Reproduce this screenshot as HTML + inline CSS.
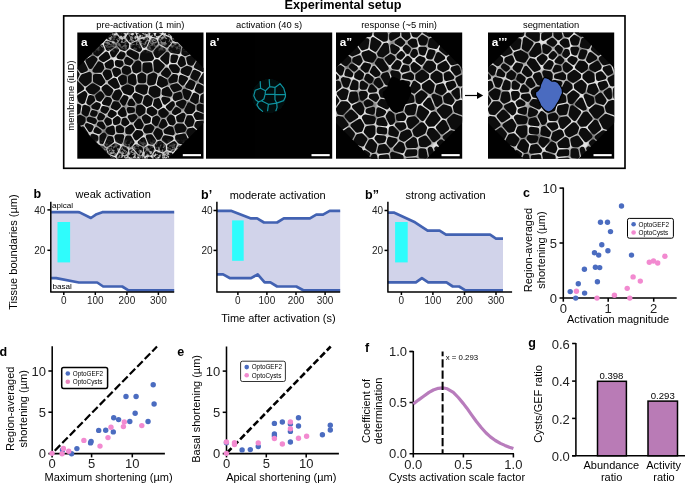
<!DOCTYPE html>
<html><head><meta charset="utf-8"><title>Figure</title>
<style>
html,body{margin:0;padding:0;background:#fff;}
body{width:685px;height:484px;overflow:hidden;}
svg{display:block;font-family:"Liberation Sans",sans-serif;}
</style></head><body>
<svg width="685" height="484" viewBox="0 0 685 484">
<rect width="685" height="484" fill="#fff"/>
<g style="will-change:opacity" opacity="0.9999">
<rect x="63.7" y="15.9" width="561.3" height="152.4" fill="#fff" stroke="#000" stroke-width="1.65"/>
<text x="343" y="9" font-size="12.7" text-anchor="middle" font-weight="700" fill="#000">Experimental setup</text>
<defs>
<filter id="bl" x="-5%" y="-5%" width="110%" height="110%"><feGaussianBlur stdDeviation="0.55"/></filter>
<filter id="bl2" x="-20%" y="-20%" width="140%" height="140%"><feGaussianBlur stdDeviation="0.65"/></filter>
<filter id="wn" x="0" y="0" width="100%" height="100%"><feTurbulence type="fractalNoise" baseFrequency="0.09" numOctaves="2" seed="4" result="t"/><feColorMatrix in="t" type="matrix" values="0 0 0 0 0  0 0 0 0 0  0 0 0 0 0  1.3 0 0 0 -0.5"/></filter>
<filter id="nz" x="0" y="0" width="100%" height="100%"><feTurbulence type="fractalNoise" baseFrequency="0.33" numOctaves="3" seed="7" result="t"/><feColorMatrix in="t" type="matrix" values="0 0 0 0 0.8  0 0 0 0 0.8  0 0 0 0 0.8  3 3 0 0 -2.65"/></filter>
<linearGradient id="eg" x1="0" y1="0" x2="0" y2="1"><stop offset="0" stop-color="#fff"/><stop offset="0.17" stop-color="#000"/><stop offset="0.84" stop-color="#000"/><stop offset="1" stop-color="#fff"/></linearGradient>
<mask id="edgem" maskUnits="userSpaceOnUse" x="77.3" y="32.5" width="126.2" height="126.2"><rect x="77.3" y="32.5" width="126.2" height="126.2" fill="url(#eg)"/></mask>
<clipPath id="oc0"><polygon points="112.9,32.5 167.9,32.5 203.5,68.1 203.5,123.1 167.9,158.7 112.9,158.7 77.3,123.1 77.3,68.1"/></clipPath>
<clipPath id="oc1"><polygon points="241.6,32.5 296.6,32.5 332.2,68.1 332.2,123.1 296.6,158.7 241.6,158.7 206.0,123.1 206.0,68.1"/></clipPath>
<clipPath id="oc2"><polygon points="371.6,32.5 426.6,32.5 462.2,68.1 462.2,123.1 426.6,158.7 371.6,158.7 336.0,123.1 336.0,68.1"/></clipPath>
<clipPath id="oc3"><polygon points="523.6,32.5 578.6,32.5 614.2,68.1 614.2,123.1 578.6,158.7 523.6,158.7 488.0,123.1 488.0,68.1"/></clipPath>
</defs>
<rect x="77.3" y="32.5" width="126.2" height="126.2" fill="#000"/>
<rect x="206.0" y="32.5" width="126.2" height="126.2" fill="#000"/>
<rect x="336.0" y="32.5" width="126.2" height="126.2" fill="#000"/>
<rect x="488.0" y="32.5" width="126.2" height="126.2" fill="#000"/>
<g clip-path="url(#oc0)"><g filter="url(#bl)">
<rect x="75.3" y="30.5" width="130.2" height="130.2" fill="#e2e2e2"/>
<rect x="75.3" y="30.5" width="130.2" height="130.2" filter="url(#wn)"/>
<path d="M74.4 60.9L79.0 58.3L77.0 53.4L74.0 52.9L73.1 53.8ZM186.4 110.5L187.8 111.8L191.2 111.9L193.1 109.6L193.2 106.6L189.3 104.6ZM74.0 91.5L75.7 92.2L81.9 88.4L76.7 83.2L74.1 86.0ZM132.5 45.6L132.4 46.5L139.2 49.7L139.8 49.0L136.9 43.5ZM174.1 38.0L174.7 39.6L177.0 40.0L181.1 32.9L179.0 31.3L178.6 31.4ZM123.7 103.4L126.3 97.9L124.5 97.3L122.1 101.2ZM128.9 109.3L129.5 111.3L132.7 110.7L132.7 109.4ZM178.0 161.7L175.4 163.9L175.6 171.9L181.3 171.9L179.7 161.9ZM106.4 121.0L107.8 123.5L109.7 122.8L109.5 120.7L107.4 119.6ZM166.8 62.3L167.5 54.4L167.3 54.1L162.5 58.6ZM111.4 61.6L106.8 64.3L107.4 66.2L110.3 66.7L111.8 65.3ZM199.5 105.9L198.7 106.5L198.7 108.7L205.0 111.1L205.7 110.0L204.6 106.9ZM136.3 138.1L141.2 134.0L140.4 132.7L137.1 132.3L134.7 135.4ZM68.8 132.8L74.1 130.0L74.3 128.2L72.9 126.9L70.8 127.4ZM117.9 30.1L121.7 35.6L123.0 35.5L126.1 30.2L124.5 27.8ZM165.3 164.5L167.2 171.9L170.1 171.9L169.9 165.1ZM92.3 114.0L94.7 114.6L95.4 113.0L93.0 112.3ZM106.8 144.7L111.9 141.0L111.3 138.4L109.3 138.1L106.6 144.5ZM170.5 49.4L171.8 50.8L178.1 51.8L178.8 47.4L177.1 45.6L173.8 45.0ZM186.8 122.5L188.6 124.9L191.1 124.4L192.4 120.7L190.7 117.4L188.6 117.4ZM169.2 148.5L172.5 149.5L175.0 144.6L174.0 143.4L169.3 146.4ZM132.3 142.3L129.6 137.8L127.5 137.6L125.9 143.6L129.2 145.1L130.0 144.8ZM195.5 25.7L199.1 27.7L202.8 25.7L202.6 19.3L195.2 19.3ZM192.5 76.7L195.9 78.5L198.6 73.8L194.7 72.0ZM128.1 37.8L130.6 40.4L135.0 38.3L133.3 33.4L130.9 33.1ZM174.7 60.9L176.1 57.1L172.9 56.6L172.5 60.9ZM196.2 66.6L202.8 69.7L204.1 69.3L201.5 62.8L198.4 62.9ZM149.7 76.2L149.3 82.8L149.9 83.4L153.6 82.5L155.2 75.7L153.4 74.7ZM159.5 47.8L155.5 52.5L156.8 55.8L157.3 55.8L163.5 50.1ZM86.2 134.0L82.6 128.5L79.7 129.3L79.6 131.0L82.2 134.8L85.1 134.8ZM182.2 106.4L184.2 102.4L183.4 101.9L178.2 103.7L178.2 103.7ZM196.4 41.0L197.7 43.6L199.7 41.0L198.4 39.8ZM210.3 113.1L208.9 115.3L209.0 119.2L209.3 119.5L209.5 119.6L216.7 118.6L216.7 113.0ZM177.4 138.7L179.8 141.7L183.6 142.4L186.3 140.4L183.9 135.6L177.4 136.9L177.3 137.1ZM71.4 73.2L75.9 77.4L77.5 74.3L73.5 69.2ZM78.0 47.9L80.8 45.2L80.1 41.8L77.4 40.3L74.2 43.7L75.2 47.5ZM95.7 150.4L98.0 157.5L99.5 157.8L105.0 153.0L104.2 149.7L102.0 147.9L99.0 147.3ZM82.3 62.8L77.6 65.4L81.8 70.8L85.6 69.5ZM136.1 146.5L135.2 147.3L140.2 153.1L140.4 153.0L140.9 149.0ZM93.6 106.8L97.5 107.8L98.6 105.0L98.6 105.0L96.7 104.2ZM166.6 69.7L163.3 73.5L166.9 75.6L168.9 73.2ZM156.0 123.9L158.1 119.0L156.9 117.8L154.4 119.0L154.0 122.1ZM169.9 94.5L170.2 93.6L167.3 89.0L164.0 90.5L163.7 93.4ZM155.0 41.0L152.7 40.4L149.6 47.7L151.5 48.6L155.7 43.6ZM140.1 35.9L146.5 34.0L145.9 31.4L141.2 29.5L138.6 31.7ZM138.3 101.6L139.4 101.4L140.7 97.2L135.6 95.1L134.6 96.2ZM181.3 77.1L180.7 81.4L182.7 83.4L185.7 78.9ZM92.6 135.9L96.1 139.4L96.1 137.0ZM122.3 76.9L120.2 78.5L122.2 83.0L124.6 81.8L124.7 77.7ZM209.3 72.3L212.5 79.9L216.7 81.1L216.7 70.2ZM118.5 70.6L115.3 69.6L114.3 70.5L115.6 74.7L116.1 74.8L118.8 72.6ZM131.0 27.5L134.5 28.0L137.6 25.2L136.8 19.3L129.3 19.3L128.5 23.8ZM147.6 159.0L148.1 163.2L152.2 162.7L149.9 158.8ZM148.0 136.7L150.2 142.1L152.4 142.5L153.7 140.8L150.8 136.4ZM208.7 146.4L207.2 149.1L208.4 151.7L209.7 152.2L216.7 149.3L216.7 147.3ZM177.1 152.8L178.9 156.2L181.6 156.5L183.0 155.7L181.8 147.7L179.8 147.4ZM189.3 62.8L191.6 63.6L193.6 60.1L192.0 57.2L188.4 58.6ZM134.7 70.6L136.3 71.2L139.1 69.9L139.1 63.4L138.3 62.6L136.9 63.0L133.8 67.0ZM104.2 102.8L108.3 103.7L109.8 100.5L109.1 99.4L106.9 99.1ZM109.9 114.7L111.8 115.7L114.5 113.7L114.5 113.6L111.5 112.0ZM156.5 35.6L159.9 32.5L160.0 30.0L155.5 25.9L151.4 30.2L152.3 34.4L152.5 34.6ZM132.8 75.8L130.2 77.4L130.2 81.7L134.0 83.3L134.5 82.8L133.8 76.2ZM165.5 32.0L170.0 34.1L173.2 29.4L170.2 27.4L165.5 30.3ZM84.4 93.4L79.2 96.6L80.4 100.9L82.3 101.9L83.0 101.7L85.2 94.5ZM125.2 119.9L124.0 120.2L123.4 123.0L124.9 124.1L127.1 122.7ZM107.0 43.0L106.2 44.2L107.9 48.5L108.3 48.7L113.2 45.4ZM208.6 57.7L206.5 60.4L209.0 66.6L213.0 65.5ZM90.5 66.8L95.2 59.5L92.9 57.9L87.6 61.0ZM113.3 55.1L116.8 50.5L116.3 49.9L112.2 52.8ZM142.0 158.4L140.6 158.6L138.1 161.2L138.3 163.4L142.7 164.8ZM89.3 74.0L82.8 76.3L81.0 79.6L85.4 84.0L89.5 80.8L89.6 74.3ZM167.0 153.6L165.8 154.5L165.8 159.0L171.7 159.7L173.6 158.1L172.0 155.1ZM145.9 153.6L149.9 153.3L152.2 149.8L151.6 148.0L148.8 147.6L146.4 149.1ZM89.2 140.3L90.2 146.3L91.6 146.6L93.6 144.7ZM123.2 148.5L118.9 156.9L119.5 157.7L121.4 158.1L124.9 155.9L125.9 149.7ZM101.6 123.7L99.5 123.8L99.2 124.3L103.3 127.2L103.4 127.0ZM126.8 62.5L129.7 63.3L131.1 61.4L127.2 59.0L126.3 60.6ZM171.1 66.5L173.9 70.8L177.3 71.0L177.7 69.1L175.4 66.4ZM120.6 141.8L122.0 136.5L117.0 136.4L116.6 136.9L117.4 140.3ZM140.0 142.3L143.7 144.3L144.8 143.6L143.2 139.5ZM141.9 41.2L144.4 45.7L147.0 39.6ZM131.3 151.3L130.5 155.7L134.4 157.0L135.4 156.0ZM177.8 125.6L176.6 127.0L177.7 131.2L183.5 130.1L184.3 128.4L182.3 125.7ZM145.8 116.6L144.0 117.9L146.0 121.6L148.5 121.0L148.8 118.6ZM202.4 123.0L197.4 123.2L196.5 125.8L198.5 127.5ZM144.8 102.8L147.0 104.7L149.7 103.6L150.7 99.6L147.3 97.1L146.4 97.6ZM155.4 62.4L156.2 69.9L158.1 70.9L162.5 65.9L157.3 61.4L156.2 61.4ZM163.4 110.0L160.5 111.9L160.4 113.4L162.6 115.6L164.3 115.6L166.5 113.2ZM184.5 91.0L186.1 97.1L187.2 97.7L189.5 92.9ZM74.8 101.5L73.6 97.4L73.0 97.1L69.4 102.5L71.1 103.6ZM203.4 117.4L203.4 116.4L196.7 113.9L195.7 115.0L197.1 117.7ZM160.3 78.2L159.0 83.6L161.7 85.5L165.8 83.6L165.2 80.9ZM121.9 130.9L121.9 128.8L119.9 127.2L118.0 127.9L118.3 130.9ZM79.3 154.0L73.7 154.6L73.4 157.2L76.9 159.9L79.5 158.7ZM87.4 29.7L79.3 31.2L78.5 32.2L79.2 34.9L82.5 36.8L89.0 32.6L89.3 31.9ZM207.0 81.1L204.4 75.0L204.3 75.0L201.0 80.8L204.7 82.6ZM95.1 76.1L95.1 80.6L100.8 83.7L103.1 81.8L99.9 76.1ZM160.4 39.6L161.2 42.4L166.5 45.4L169.5 41.6L168.8 39.7L163.2 37.1ZM139.2 120.7L136.1 124.2L137.6 126.8L140.5 127.1L141.5 125.0ZM191.7 87.7L193.3 83.5L190.4 81.9L187.5 86.2ZM131.1 100.8L129.7 103.7L133.1 103.9ZM108.6 171.7L114.6 160.5L113.8 159.3L108.6 157.2L103.7 161.5ZM100.4 93.6L97.4 96.1L98.4 98.9L99.8 99.4L102.2 96.1ZM86.4 114.2L88.2 109.1L87.8 108.3L85.0 107.0L84.5 107.1L83.7 112.6L86.2 114.2ZM198.4 151.3L194.7 157.3L196.9 159.6L198.7 159.5L203.2 153.6L202.2 151.6ZM83.4 121.0L83.4 119.0L80.3 117.1L77.0 118.2L76.6 122.8L77.9 124.0L82.1 122.9ZM201.7 47.6L204.5 48.8L205.2 43.8L204.6 43.7ZM127.4 132.0L130.1 132.2L132.6 129.1L131.1 126.7L127.5 129.0ZM172.3 86.6L174.4 89.9L179.6 88.2L179.7 88.1L177.0 85.5ZM161.1 125.9L162.4 126.6L165.4 124.4L163.8 121.1L163.2 121.1ZM115.0 120.2L115.3 122.9L118.0 122.0L118.5 119.1L117.5 118.3ZM152.2 127.9L150.3 126.3L146.6 127.2L145.3 130.0L146.0 131.3L150.5 130.8ZM144.7 64.8L144.6 70.0L147.1 71.2L150.6 69.8L150.0 64.5ZM127.8 160.7L125.9 161.9L129.6 167.9L132.8 164.5L132.6 162.3ZM92.4 43.8L90.1 38.5L85.7 41.3L86.2 44.0L90.9 45.7ZM102.4 49.7L101.3 46.7L97.0 47.0L94.8 49.7L95.5 53.0L97.3 54.2ZM154.4 95.5L158.1 94.6L158.5 90.0L155.3 87.8L151.4 88.8L150.7 92.7ZM185.2 53.9L189.6 52.2L185.5 48.6L184.2 48.9L183.5 53.1ZM196.8 89.9L200.0 91.5L201.7 90.8L201.9 87.4L198.4 85.8ZM190.5 144.2L187.2 146.5L188.4 154.6L189.8 154.8L193.6 148.5L190.5 144.2ZM207.2 91.2L209.0 92.3L213.4 85.9L210.9 85.2L207.5 87.3ZM156.1 100.8L155.2 104.6L158.1 106.9L160.1 105.5L158.0 100.3ZM88.0 89.0L89.9 91.5L93.4 92.3L97.9 88.5L92.6 85.5ZM207.4 157.2L203.8 161.9L206.7 164.7L209.5 162.6L207.6 157.3ZM64.1 119.6L69.1 122.1L71.1 121.6L71.5 117.3L70.6 116.6L64.1 118.1ZM108.6 37.3L108.6 37.7L115.6 40.3L117.0 38.5L113.8 34.0ZM83.3 147.6L84.7 147.0L83.6 140.3L82.3 140.3L80.9 142.4ZM120.1 93.9L118.7 91.5L116.5 92.1L114.0 96.8L114.7 97.8L117.4 98.3ZM191.5 138.4L196.7 133.7L196.5 132.9L192.5 129.8L189.4 130.4L188.5 132.4ZM197.0 96.2L194.6 95.1L192.3 99.9L195.8 101.7L196.3 101.4ZM166.7 141.4L171.3 138.6L165.2 137.4L164.1 139.3ZM165.8 131.0L166.0 131.9L172.5 133.2L171.2 128.6L169.6 128.3ZM143.0 59.3L151.1 58.9L151.8 58.1L150.1 54.1L145.5 52.0L144.6 52.1L142.5 54.4L141.9 58.4ZM91.6 171.9L102.6 171.9L98.4 163.2L96.5 162.9L91.9 165.7ZM196.2 53.4L198.4 57.3L202.0 57.2L204.0 54.6L197.8 51.9ZM64.1 80.5L70.4 81.9L71.4 80.8L67.1 76.8L64.1 77.4ZM109.3 93.8L111.1 90.5L106.2 86.5L103.7 88.5L103.7 88.8L107.2 93.5ZM120.3 163.5L119.4 163.3L114.7 171.9L125.6 171.9ZM77.4 171.9L86.0 171.9L86.3 165.8L82.2 163.6L78.9 165.1L77.2 170.8ZM65.8 163.5L72.6 166.8L73.4 164.1L70.1 161.6ZM112.4 127.8L108.5 129.2L107.7 130.8L109.1 132.4L112.6 133.0L112.9 132.7ZM172.6 117.9L170.8 116.7L168.8 118.9L170.8 122.8L172.5 123.2L173.6 122.0ZM185.1 37.0L181.9 42.6L182.8 43.5L184.7 43.1L187.1 39.8ZM123.1 109.3L120.0 112.7L120.0 113.3L122.2 114.9L124.6 114.3L124.6 114.2ZM128.7 53.4L135.6 57.6L136.5 57.3L136.8 54.8L130.0 51.5L128.6 52.9ZM88.9 120.0L94.1 122.0L94.7 121.0L94.3 120.2L89.1 119.0L89.0 119.1ZM101.1 58.3L103.5 59.8L108.1 57.1L106.6 54.0L106.2 53.8ZM174.2 112.3L175.2 112.9L179.0 110.9L176.4 109.2ZM206.9 126.3L202.0 132.0L202.1 132.5L205.3 133.9L208.0 131.8ZM94.7 70.5L100.1 70.6L102.1 68.0L101.2 64.8L99.2 63.6ZM84.2 56.6L89.9 53.2L89.4 51.0L84.5 49.3L82.2 51.5ZM157.3 130.2L155.4 133.3L158.3 137.7L158.7 137.6L160.8 133.9L160.2 131.8ZM110.2 75.9L109.0 72.1L106.3 71.6L104.8 73.6L107.3 77.9ZM189.9 160.3L186.6 160.0L185.2 160.9L186.9 171.9L189.5 171.9L192.5 163.1ZM175.0 98.2L175.6 98.7L180.4 97.1L179.6 94.1L175.5 95.4L174.8 97.6ZM129.9 116.9L132.1 120.2L135.1 116.9L134.4 116.1ZM185.0 28.9L189.9 25.9L189.6 19.3L185.4 19.3L183.0 27.4ZM123.4 88.6L125.2 91.7L129.9 93.2L132.0 90.8L131.9 88.4L127.5 86.6ZM102.6 110.0L105.3 111.5L106.8 109.1L103.3 108.2ZM90.2 97.2L88.6 102.5L89.5 102.9L92.9 100.1L92.0 97.6ZM204.1 95.8L202.5 96.5L202.0 100.8L205.4 101.4L207.6 97.9L207.6 97.9ZM191.4 43.4L190.0 45.2L193.6 48.3L193.8 48.1ZM201.7 35.2L204.6 38.1L206.9 38.4L208.1 32.0L205.6 30.5L201.8 32.5ZM96.5 129.3L95.7 131.0L98.5 131.9L99.4 131.3ZM106.1 32.4L111.9 28.6L106.9 20.6L102.6 29.4ZM77.4 137.6L75.8 135.4L71.5 137.7L72.8 139.8L76.1 139.5ZM211.8 135.9L208.9 138.2L209.5 140.9L216.7 141.7L216.7 136.7ZM119.4 44.5L119.5 45.1L121.9 47.9L124.9 48.8L126.7 46.9L127.0 44.7L123.6 41.0L121.9 41.2ZM203.4 139.1L200.4 137.8L195.8 142.0L198.5 145.8L202.5 146.1L204.3 143.0ZM163.5 99.0L164.9 102.4L168.1 99.8ZM79.0 106.4L78.1 106.0L73.9 108.4L74.0 112.2L75.0 113.0L78.2 111.9ZM178.3 117.5L178.8 120.1L181.8 120.2L183.4 115.3L183.1 114.9ZM179.8 63.0L181.3 64.8L183.8 63.5L182.7 58.9L181.6 58.3ZM118.9 56.9L121.8 57.2L123.3 54.6L123.2 54.0L121.4 53.5ZM121.4 64.0L121.1 62.8L117.0 62.3L117.2 64.4L120.1 65.3ZM192.1 37.2L196.1 34.7L196.3 32.4L192.8 30.6L189.0 32.9L192.1 37.2ZM90.2 129.9L91.5 126.9L87.2 125.3L87.1 125.3ZM125.4 67.9L123.9 69.4L124.3 71.7L127.1 72.7L129.2 71.4L128.5 68.7ZM103.1 37.1L98.4 33.1L94.5 33.7L94.3 34.3L97.4 41.4L101.6 41.1L103.1 38.9ZM138.3 107.7L138.2 112.0L139.9 114.0L143.2 111.7L143.5 109.0L140.9 106.7L138.6 107.2ZM113.1 106.7L116.4 108.3L118.7 105.9L117.2 103.8L114.6 103.4ZM163.7 149.2L163.7 146.1L159.9 143.0L158.7 143.3L156.8 145.9L157.5 148.0L162.6 150.0ZM101.7 118.1L102.8 116.5L100.5 115.1L99.3 117.8L99.5 118.2ZM74.8 27.9L73.4 19.3L73.3 19.3L70.5 25.1L73.0 28.1L74.4 28.4ZM64.7 38.4L70.2 39.9L73.8 36.0L73.2 33.9L72.0 33.6ZM183.1 70.2L182.8 71.7L187.7 73.8L190.0 68.9L187.2 68.0ZM138.5 86.6L137.4 87.7L137.5 89.9L144.0 92.6L145.1 92.0L146.0 87.4L145.3 86.7ZM97.3 27.6L101.3 19.3L91.5 19.3L91.3 25.7L93.5 28.3ZM88.1 151.6L84.9 153.0L85.0 158.8L89.1 160.9L92.6 158.7L90.4 152.0ZM110.2 82.6L115.3 86.7L117.6 86.1L114.9 80.2L114.0 80.0ZM101.6 142.1L104.4 135.5L103.9 134.9L101.7 136.5ZM175.8 76.5L173.5 76.3L170.6 79.8L170.9 81.2L175.3 80.2ZM139.4 75.9L139.9 81.1L143.9 81.1L144.1 75.9L141.8 74.8ZM149.0 109.9L148.8 111.9L152.0 114.0L154.9 112.6L155.0 111.5L151.6 108.8ZM154.7 156.0L157.3 160.4L160.2 159.9L160.3 155.0L156.4 153.5ZM216.7 19.3L208.1 19.3L208.4 25.7L211.6 27.7L216.7 26.6ZM110.4 152.0L114.3 153.5L117.9 146.7L115.3 145.4L109.8 149.4ZM172.5 103.5L168.1 106.9L169.9 108.7L172.7 104.7ZM77.6 148.6L76.0 145.1L73.4 145.3L72.0 148.7L72.4 149.2Z" fill="#0a0a0a" stroke="#0a0a0a" stroke-width="4.4" stroke-linejoin="round"/>
</g>
<rect x="77.3" y="32.5" width="126.2" height="126.2" filter="url(#nz)" mask="url(#edgem)"/>
</g>
<circle cx="269.2" cy="96" r="17" fill="#020e10" filter="url(#bl2)"/>
<path d="M260.2 81.6L260.6 88.2L255.2 90.3L253.8 95.7L255.6 99.8L258.5 101.9L256.9 104.9L258.9 108.2L262.6 111.4M260.6 88.2L265.5 90.7L269.7 86.6L269.2 79.5M269.7 86.6L275.0 87.4L280.0 83.7L283.7 88.2L285.5 94.5L285.4 96.7L283.7 100.6L276.7 103.1M265.5 90.7L265.1 94.4L263.9 99.0L261.4 100.8L258.5 101.9M265.1 94.4L274.6 94.4L285.5 94.6M275.0 87.4L274.9 94.4L275.0 99.8L276.7 103.1L277.1 107.4L275.9 110.7M261.4 100.8L268.4 104.3L276.7 103.1M268.4 104.3L267.6 110.7" stroke="#0e929f" stroke-width="1.2" fill="none" stroke-linecap="round" stroke-linejoin="round" filter="url(#bl2)"/>
<g clip-path="url(#oc2)"><g filter="url(#bl)">
<rect x="334.0" y="30.5" width="130.2" height="130.2" fill="#e2e2e2"/>
<rect x="334.0" y="30.5" width="130.2" height="130.2" filter="url(#wn)"/>
<path d="M444.9 137.2L449.7 141.5L453.8 140.2L453.5 133.2L451.1 132.4ZM393.5 67.0L397.7 67.6L399.5 63.7L399.2 63.0L397.5 62.2ZM420.5 49.0L421.4 52.6L423.4 53.3L424.9 49.0ZM462.6 148.4L458.5 157.6L459.1 158.0L466.5 157.6L467.3 156.9L463.0 148.5ZM381.2 91.4L380.9 92.4L382.1 95.5L385.2 95.8L388.0 93.0L387.0 88.8L385.5 88.6ZM424.6 29.7L424.9 31.9L429.4 34.7L431.8 33.9L433.5 30.2L428.9 27.9ZM404.8 61.2L408.5 62.0L410.0 60.3L407.8 58.0ZM456.3 28.4L461.5 29.0L462.2 28.4L458.1 25.7ZM420.8 150.4L420.6 155.9L420.6 156.0L425.5 156.5L424.3 150.7ZM353.3 159.6L348.3 154.8L347.8 155.0L345.1 159.0L346.6 161.5L350.8 162.9L352.0 162.2ZM400.8 91.3L397.3 85.3L394.2 85.6L392.4 87.2L393.6 91.7L399.0 93.7ZM352.0 65.8L351.2 66.7L354.2 69.4L355.6 68.2ZM447.5 66.8L445.1 63.1L439.5 66.3L439.4 67.8L443.1 69.9L447.2 67.8ZM346.3 124.5L341.6 118.6L338.1 118.1L336.2 120.3L338.6 129.8ZM395.3 140.5L389.6 139.1L388.7 142.5L391.1 145.4ZM354.5 60.7L358.7 63.4L360.5 61.0L359.1 57.6L354.6 59.4ZM448.4 94.8L445.3 97.3L445.9 101.1L450.9 102.7L452.4 100.6ZM392.3 46.2L392.9 51.2L394.7 52.0L397.5 49.0ZM326.6 147.7L329.7 147.0L334.4 141.7L334.9 138.2L334.7 137.9L322.9 137.8L322.9 146.4ZM387.6 160.8L387.0 156.5L380.9 157.2L381.4 160.9L385.1 162.2ZM404.9 48.6L407.5 51.7L408.7 49.2L406.3 47.1ZM432.6 114.1L427.5 121.9L429.4 124.5L433.0 124.4L438.4 118.8L434.4 113.6ZM430.0 91.8L431.3 91.0L432.6 85.4L429.3 82.1L424.0 85.6L424.2 87.4ZM351.2 111.8L346.9 116.1L350.2 120.2L356.0 116.5ZM333.3 132.2L330.9 122.6L322.9 123.2L322.9 132.1ZM421.1 80.7L426.9 76.9L427.0 75.6L422.3 72.1L417.5 75.6L417.5 78.3ZM449.1 51.5L447.6 47.7L443.7 45.8L442.5 46.2L441.1 49.1L446.5 53.4ZM379.3 151.6L387.7 150.7L387.9 150.4L384.4 146.2L380.4 147.0ZM379.0 131.7L384.9 132.2L385.1 129.8L379.0 129.0ZM466.8 118.4L465.4 126.2L475.4 132.4L475.4 117.8L468.5 117.4ZM439.1 32.5L438.7 32.5L437.3 35.8L441.4 40.6L441.7 40.5L443.5 35.5ZM429.9 149.3L431.1 155.5L432.7 154.9L430.4 148.9ZM379.6 103.7L386.8 107.2L384.4 101.4L381.4 101.2ZM402.7 164.0L397.6 166.0L398.5 171.8L403.0 171.8L403.6 169.9ZM367.4 76.0L366.4 78.7L369.9 81.3L370.3 81.2L371.5 78.7L368.0 75.9ZM420.8 161.7L420.0 164.0L420.5 166.9L420.6 167.0L426.2 163.6L426.0 162.3ZM462.4 64.3L462.3 64.4L464.7 71.3L464.9 71.4L468.1 69.0L466.4 64.2L464.2 63.4ZM451.9 39.7L449.9 36.4L449.1 36.7L447.5 41.3L449.3 42.2ZM385.6 39.4L385.7 34.0L382.8 30.5L381.5 30.2L375.8 34.0L375.8 34.3L383.9 39.6ZM449.8 151.1L453.7 154.3L457.3 146.3L456.2 145.4L451.2 147.0ZM348.4 106.5L348.5 105.9L346.0 103.4L342.1 103.5L338.0 109.3L339.1 112.5L342.1 112.9ZM355.5 93.8L351.8 93.6L350.4 99.6L352.0 101.4L356.4 99.4ZM403.6 35.3L406.5 38.0L408.5 36.5L407.2 31.9L403.6 31.9ZM456.4 61.9L451.8 56.5L449.1 58.6L449.0 58.8L451.9 63.1ZM389.4 29.4L393.8 27.3L391.3 24.6L388.2 28.0ZM369.8 162.5L374.3 163.3L375.8 161.9L375.0 156.2L373.4 156.3ZM457.1 97.3L457.8 97.1L457.5 90.0L453.7 92.5ZM389.8 113.4L387.9 116.3L391.0 122.7L391.8 122.5L392.9 121.0L392.3 115.2ZM452.9 68.7L452.8 69.2L456.2 73.4L458.9 72.1L457.4 67.5ZM436.6 81.2L440.7 80.1L440.3 74.9L436.7 72.9L432.7 75.8L432.6 77.4ZM422.4 124.6L421.7 124.5L414.5 130.9L415.6 133.9L417.4 135.0L423.5 132.0L424.9 127.9ZM397.3 124.7L397.2 124.8L400.7 128.6L404.2 126.9L403.4 124.5ZM327.3 34.0L329.6 37.2L331.0 36.6L331.2 31.5L330.6 31.3ZM352.3 54.2L358.3 51.8L355.0 47.1L349.7 48.0L349.5 52.2ZM328.8 51.4L328.4 52.5L330.0 54.6L332.4 53.1L332.2 52.1L329.4 51.1ZM406.8 154.5L415.0 153.9L415.1 151.5L408.1 151.6ZM373.9 68.2L372.1 71.9L375.7 74.8L377.9 74.1L378.3 73.4ZM378.4 123.2L385.4 124.1L383.0 119.4L379.0 120.4ZM445.7 155.1L445.0 155.3L442.3 157.9L443.7 161.7L447.1 161.9L450.3 158.9ZM373.3 127.4L367.3 128.1L365.9 131.7L369.8 135.7L371.5 135.6L373.2 133.4ZM367.3 147.1L372.5 150.7L373.7 150.6L374.9 145.2L371.7 141.3L370.5 141.4ZM356.8 155.1L360.0 149.5L355.0 147.7L352.8 151.3ZM390.5 133.4L396.2 134.8L396.8 132.8L392.5 128.2L391.0 128.5L391.0 128.6ZM402.7 70.5L407.5 69.2L407.2 67.6L404.3 66.9L402.7 70.5ZM395.5 149.0L402.1 151.0L403.2 148.6L401.9 144.8L399.9 143.8ZM332.5 110.9L326.9 108.0L322.9 108.7L322.9 117.5L331.7 116.8L333.7 114.5ZM393.7 109.2L395.6 110.5L401.3 109.2L401.9 105.9L400.1 104.1ZM433.8 96.1L437.2 104.6L440.3 102.1L439.7 98.2L434.1 96.0ZM411.7 96.7L406.9 94.0L405.8 94.2L402.9 97.9L403.1 98.9L405.9 101.9L412.3 100.7ZM417.6 59.9L421.4 62.6L423.4 59.6L423.2 59.3L419.6 58.1ZM416.9 121.2L414.4 118.5L409.4 119.1L408.4 121.6L410.1 126.4L410.7 126.7ZM431.7 161.3L431.9 163.8L433.0 164.9L438.4 163.8L436.9 159.7L436.6 159.6ZM361.9 87.5L364.9 87.6L365.9 85.4L362.6 82.9L362.1 83.1ZM457.7 43.4L456.4 43.2L453.2 46.4L454.1 48.6L456.7 47.6ZM428.3 56.7L428.5 57.1L431.1 57.3L433.2 52.1L430.1 51.4ZM331.5 42.5L331.8 45.9L333.6 46.6L335.9 43.4L333.5 41.8ZM425.4 95.4L421.5 92.5L417.4 96.0L418.1 101.4L418.7 101.9L419.7 101.8ZM414.0 91.4L418.5 87.6L418.3 85.7L414.5 83.1L411.2 89.9ZM361.1 93.1L362.1 98.6L365.3 96.3L365.7 94.1L365.2 93.3ZM464.6 49.6L465.3 49.1L463.5 44.8L463.2 44.8L462.3 48.3ZM438.4 54.3L436.2 59.8L437.3 61.0L442.9 57.8ZM343.1 58.7L343.1 62.3L345.9 64.0L348.8 60.9L348.9 58.8L346.3 57.0ZM337.0 171.1L341.3 163.9L340.1 161.8L339.2 161.8L336.3 164.1L335.9 168.9ZM373.1 39.4L372.0 47.7L375.2 49.6L379.3 43.4ZM351.9 87.9L356.1 88.1L356.4 82.9L354.2 81.9ZM456.8 53.6L461.1 58.6L461.4 58.5L461.8 54.5L458.8 52.9ZM407.6 160.1L415.1 160.7L415.5 159.6ZM339.6 156.1L340.2 156.1L342.5 152.7L337.2 147.2L334.9 149.7ZM383.3 140.7L384.1 137.8L377.4 137.3L376.7 138.3L379.2 141.4ZM364.1 117.6L366.8 122.4L372.9 121.7L373.6 118.7L373.4 118.5L365.1 116.7ZM391.3 38.7L397.9 34.9L397.9 31.7L391.4 34.8ZM444.4 149.2L445.7 145.6L441.1 141.5L439.2 143.1ZM392.4 72.5L394.9 79.8L397.3 79.6L398.5 78.1L398.6 74.7L397.7 73.4ZM464.9 81.8L463.2 76.9L462.6 76.7L457.8 78.9L457.6 79.4L459.8 84.1L460.3 84.3L464.0 83.2ZM377.1 63.2L382.6 69.7L386.5 68.2L381.4 60.8L378.9 60.3ZM331.7 61.6L335.2 63.5L337.4 62.2L337.4 58.7L335.7 57.7L331.7 60.3L331.5 61.0ZM352.7 27.6L351.1 19.4L342.6 19.4L341.9 25.0L347.0 28.9ZM405.6 88.3L408.2 83.2L402.5 82.2L402.3 82.5ZM463.8 39.1L464.9 39.3L467.3 37.8L466.3 32.4L464.9 33.5ZM334.4 89.9L334.4 89.9L339.3 86.3L338.2 82.9L333.5 84.3ZM444.3 29.1L447.4 31.2L449.4 30.6L449.7 30.1L449.7 30.1L446.3 26.9ZM329.5 152.9L330.1 158.3L333.0 159.4L334.2 158.4L330.0 152.7ZM425.2 67.2L429.9 70.8L433.7 68.0L433.8 65.6L431.5 63.1L428.1 62.8ZM393.4 58.3L393.1 57.6L390.6 56.3L387.0 58.9L389.7 62.7ZM461.2 163.6L461.3 171.8L465.7 171.8L465.0 163.4ZM333.1 95.4L330.7 103.5L334.0 105.2L337.1 100.7L333.4 95.5ZM343.1 79.5L345.0 85.1L346.7 85.6L348.6 80.5L343.5 79.3ZM442.0 132.2L447.0 128.4L443.9 122.1L443.2 122.0L438.1 127.4ZM347.5 71.0L346.6 74.2L350.8 75.2L351.0 74.1ZM383.0 76.5L386.7 83.0L388.3 83.3L389.7 82.0L386.9 74.2L383.7 75.4ZM425.9 145.0L429.1 143.0L425.0 137.7L420.5 139.8L421.4 144.8ZM379.1 86.0L381.1 84.7L378.4 79.9L377.1 80.3L375.8 82.9ZM332.3 78.7L336.8 77.4L334.2 74.8L332.0 76.1ZM413.2 112.9L414.7 106.0L407.4 107.4L406.8 110.9L408.7 113.4ZM415.8 145.8L414.8 140.0L413.5 139.3L407.6 143.8L408.3 145.9ZM362.7 67.7L366.0 70.5L366.6 70.3L368.8 65.6L364.9 64.7ZM457.6 103.1L455.0 106.7L455.9 110.6L463.9 113.5L464.6 113.1L463.0 102.9L460.7 102.2ZM441.8 92.9L444.5 90.6L442.3 85.5L438.2 86.7L437.2 91.0ZM401.5 157.6L401.3 156.8L392.4 154.0L392.3 154.1L393.3 160.4L394.7 161.1L401.4 158.4ZM346.5 91.5L343.2 90.5L339.0 93.6L342.0 97.8L345.0 97.7ZM356.7 74.7L356.3 76.6L359.5 78.0L360.8 77.5L361.9 74.5L359.4 72.4ZM446.3 78.8L452.1 77.3L448.8 73.4L446.0 74.8ZM439.0 26.4L443.3 21.7L443.3 21.3L442.5 19.4L440.8 19.4ZM430.0 45.5L435.8 46.8L437.1 44.3L433.0 39.5L431.3 40.1ZM422.5 37.1L420.1 39.4L421.1 43.3L424.6 43.3L425.7 39.1ZM370.7 24.6L373.8 28.5L377.7 25.9L376.2 19.4L371.5 19.3ZM337.0 30.7L336.7 37.1L340.7 39.8L341.2 39.7L343.0 33.1L338.7 29.7ZM350.7 143.9L350.4 143.1L340.2 141.1L340.1 142.0L347.0 149.3L347.3 149.2ZM361.6 135.5L358.0 136.1L355.7 140.8L356.1 142.1L362.4 144.3L365.2 139.2ZM325.6 165.2L330.4 166.1L330.5 164.6L327.8 163.6ZM467.5 54.6L467.1 58.4L468.3 58.8L472.8 56.2L469.4 53.3ZM354.2 106.7L360.6 113.1L361.7 112.1L362.4 108.7L360.2 104.3L359.8 104.2ZM378.1 114.8L382.8 113.6L383.8 112.1L378.6 109.6ZM413.4 69.6L414.7 70.6L418.7 67.7L414.0 64.4L412.7 66.0ZM452.6 126.9L455.9 128.0L459.7 125.8L461.0 118.5L454.1 116.0L449.3 120.2ZM398.1 115.8L398.4 118.9L403.4 118.8L404.1 116.9L402.6 114.8ZM372.0 60.5L374.4 56.9L373.8 55.4L368.6 52.3L363.7 53.8L363.7 53.9L365.8 59.0ZM409.9 42.6L413.2 45.6L415.7 45.3L414.6 40.9L412.5 40.6ZM362.2 157.2L365.5 158.6L367.9 154.4L364.9 152.4ZM412.4 54.6L413.6 55.8L415.8 53.8L415.2 51.1L414.1 51.2ZM459.6 140.8L461.9 142.7L463.9 142.8L471.4 136.6L462.2 131.0L459.2 132.7ZM367.8 110.6L367.7 111.4L372.6 112.5L372.9 109.0ZM412.7 30.3L414.0 35.0L416.0 35.4L419.2 32.4L419.1 31.3ZM429.1 99.7L425.3 104.1L431.4 108.5L432.5 108.2ZM409.9 134.9L408.8 132.1L407.7 131.6L402.4 134.1L401.2 138.0L401.3 138.2L403.9 139.5ZM340.3 53.7L343.8 51.9L344.1 46.8L342.4 45.3L341.5 45.4L337.7 50.6L338.1 52.5ZM358.3 30.4L360.4 34.5L369.4 34.7L370.0 34.2L370.2 33.2L366.5 28.6ZM365.9 102.9L366.9 104.9L371.3 103.6L368.0 101.4ZM360.7 40.2L359.5 43.5L362.7 48.2L366.3 47.0L367.2 40.4ZM330.3 67.3L327.9 70.6L329.0 71.2L332.0 69.5L332.1 68.4ZM411.8 78.0L411.8 75.6L410.2 74.3L404.3 76.0L404.2 76.7ZM433.9 139.9L438.2 136.5L432.9 130.1L430.1 130.1L429.0 133.5ZM463.5 97.1L465.1 97.6L468.3 95.5L464.4 89.0L463.2 89.4ZM358.5 161.8L357.7 163.5L362.7 167.7L364.5 164.7L364.4 164.4ZM455.2 34.0L457.2 37.6L458.3 37.7L458.9 34.4ZM352.7 125.3L357.2 130.5L360.5 129.9L362.1 125.7L359.5 121.1ZM455.0 162.2L451.4 165.6L453.4 171.8L455.6 171.8L455.5 162.5ZM397.2 99.1L391.9 97.1L389.7 99.4L391.5 103.7ZM439.1 110.4L443.8 116.3L444.9 116.5L450.3 111.7L449.5 108.3L443.9 106.5ZM398.9 56.6L400.6 57.4L402.8 55.0L401.4 53.3L398.7 56.1ZM420.3 107.5L420.2 107.5L418.7 114.7L422.4 118.8L422.6 118.9L426.9 112.3ZM340.2 67.2L337.8 68.6L337.7 70.1L340.9 73.5L342.3 68.5ZM370.0 90.3L370.1 90.5L375.0 90.0L371.6 86.7L371.5 86.8ZM340.6 135.4L351.1 137.4L352.7 134.0L348.9 129.6ZM371.1 96.1L371.0 96.6L375.6 99.6L376.9 97.8L376.0 95.6ZM386.5 45.0L384.9 45.2L379.3 53.7L379.7 54.7L382.4 55.2L387.3 51.7ZM436.4 148.6L438.3 153.8L439.7 152.5ZM348.6 34.4L346.6 41.4L347.9 42.6L354.2 41.5L355.6 37.5L353.3 33.3ZM400.3 40.0L396.8 42.1L401.0 44.5L402.9 42.5ZM472.6 154.7L475.4 154.6L475.4 140.7L468.4 146.5ZM449.7 88.3L454.1 85.4L453.0 82.9L447.9 84.2Z" fill="#0a0a0a" stroke="#0a0a0a" stroke-width="4.4" stroke-linejoin="round"/>
</g>
<polygon points="393.5,77.4 396.6,78.6 399.7,81.1 402.8,80.9 405.8,82.4 408.3,85.5 410.2,89.2 410.6,92.9 408.9,96.6 407.7,99.7 406.2,102.2 404.6,104.7 402.8,107.8 399.7,110.9 396.6,112.1 393.5,110.9 391.0,108.4 388.5,105.3 387.3,102.2 385.4,98.5 383.5,95.4 383.5,92.3 386.0,90.4 387.9,87.9 388.5,84.8 390.4,80.5 391.6,78.0" fill="#050505" stroke="#050505" stroke-width="1.5" stroke-linejoin="round" filter="url(#bl)"/>
</g>
<g clip-path="url(#oc3)"><g filter="url(#bl)">
<rect x="486.0" y="30.5" width="130.2" height="130.2" fill="#e2e2e2"/>
<rect x="486.0" y="30.5" width="130.2" height="130.2" filter="url(#wn)"/>
<path d="M596.9 137.2L601.7 141.5L605.8 140.2L605.5 133.2L603.1 132.4ZM545.5 67.0L549.7 67.6L551.5 63.7L551.2 63.0L549.5 62.2ZM572.5 49.0L573.4 52.6L575.4 53.3L576.9 49.0ZM614.6 148.4L610.5 157.6L611.1 158.0L618.5 157.6L619.3 156.9L615.0 148.5ZM533.2 91.4L532.9 92.4L534.1 95.5L537.2 95.8L540.0 93.0L539.0 88.8L537.5 88.6ZM576.6 29.7L576.9 31.9L581.4 34.7L583.8 33.9L585.5 30.2L580.9 27.9ZM556.8 61.2L560.5 62.0L562.0 60.3L559.8 58.0ZM608.3 28.4L613.5 29.0L614.2 28.4L610.1 25.7ZM572.8 150.4L572.6 155.9L572.6 156.0L577.5 156.5L576.3 150.7ZM505.3 159.6L500.3 154.8L499.8 155.0L497.1 159.0L498.6 161.5L502.8 162.9L504.0 162.2ZM552.8 91.3L549.3 85.3L546.2 85.6L544.4 87.2L545.6 91.7L551.0 93.7ZM504.0 65.8L503.2 66.7L506.2 69.4L507.6 68.2ZM599.5 66.8L597.1 63.1L591.5 66.3L591.4 67.8L595.1 69.9L599.2 67.8ZM498.3 124.5L493.6 118.6L490.1 118.1L488.2 120.3L490.6 129.8ZM547.3 140.5L541.6 139.1L540.7 142.5L543.1 145.4ZM506.5 60.7L510.7 63.4L512.5 61.0L511.1 57.6L506.6 59.4ZM600.4 94.8L597.3 97.3L597.9 101.1L602.9 102.7L604.4 100.6ZM544.3 46.2L544.9 51.2L546.7 52.0L549.5 49.0ZM478.6 147.7L481.7 147.0L486.4 141.7L486.9 138.2L486.7 137.9L474.9 137.8L474.9 146.4ZM539.6 160.8L539.0 156.5L532.9 157.2L533.4 160.9L537.1 162.2ZM556.9 48.6L559.5 51.7L560.7 49.2L558.3 47.1ZM584.6 114.1L579.5 121.9L581.4 124.5L585.0 124.4L590.4 118.8L586.4 113.6ZM582.0 91.8L583.3 91.0L584.6 85.4L581.3 82.1L576.0 85.6L576.2 87.4ZM503.2 111.8L498.9 116.1L502.2 120.2L508.0 116.5ZM485.3 132.2L482.9 122.6L474.9 123.2L474.9 132.1ZM573.1 80.7L578.9 76.9L579.0 75.6L574.3 72.1L569.5 75.6L569.5 78.3ZM601.1 51.5L599.6 47.7L595.7 45.8L594.5 46.2L593.1 49.1L598.5 53.4ZM531.3 151.6L539.7 150.7L539.9 150.4L536.4 146.2L532.4 147.0ZM531.0 131.7L536.9 132.2L537.1 129.8L531.0 129.0ZM618.8 118.4L617.4 126.2L627.4 132.4L627.4 117.8L620.5 117.4ZM591.1 32.5L590.7 32.5L589.3 35.8L593.4 40.6L593.7 40.5L595.5 35.5ZM581.9 149.3L583.1 155.5L584.7 154.9L582.4 148.9ZM531.6 103.7L538.8 107.2L536.4 101.4L533.4 101.2ZM554.7 164.0L549.6 166.0L550.5 171.8L555.0 171.8L555.6 169.9ZM519.4 76.0L518.4 78.7L521.9 81.3L522.3 81.2L523.5 78.7L520.0 75.9ZM572.8 161.7L572.0 164.0L572.5 166.9L572.6 167.0L578.2 163.6L578.0 162.3ZM614.4 64.3L614.3 64.4L616.7 71.3L616.9 71.4L620.1 69.0L618.4 64.2L616.2 63.4ZM603.9 39.7L601.9 36.4L601.1 36.7L599.5 41.3L601.3 42.2ZM537.6 39.4L537.7 34.0L534.8 30.5L533.5 30.2L527.8 34.0L527.8 34.3L535.9 39.6ZM601.8 151.1L605.7 154.3L609.3 146.3L608.2 145.4L603.2 147.0ZM500.4 106.5L500.5 105.9L498.0 103.4L494.1 103.5L490.0 109.3L491.1 112.5L494.1 112.9ZM507.5 93.8L503.8 93.6L502.4 99.6L504.0 101.4L508.4 99.4ZM555.6 35.3L558.5 38.0L560.5 36.5L559.2 31.9L555.6 31.9ZM608.4 61.9L603.8 56.5L601.1 58.6L601.0 58.8L603.9 63.1ZM541.4 29.4L545.8 27.3L543.3 24.6L540.2 28.0ZM521.8 162.5L526.3 163.3L527.8 161.9L527.0 156.2L525.4 156.3ZM609.1 97.3L609.8 97.1L609.5 90.0L605.7 92.5ZM541.8 113.4L539.9 116.3L543.0 122.7L543.8 122.5L544.9 121.0L544.3 115.2ZM604.9 68.7L604.8 69.2L608.2 73.4L610.9 72.1L609.4 67.5ZM588.6 81.2L592.7 80.1L592.3 74.9L588.7 72.9L584.7 75.8L584.6 77.4ZM574.4 124.6L573.7 124.5L566.5 130.9L567.6 133.9L569.4 135.0L575.5 132.0L576.9 127.9ZM549.3 124.7L549.2 124.8L552.7 128.6L556.2 126.9L555.4 124.5ZM479.3 34.0L481.6 37.2L483.0 36.6L483.2 31.5L482.6 31.3ZM504.3 54.2L510.3 51.8L507.0 47.1L501.7 48.0L501.5 52.2ZM480.8 51.4L480.4 52.5L482.0 54.6L484.4 53.1L484.2 52.1L481.4 51.1ZM558.8 154.5L567.0 153.9L567.1 151.5L560.1 151.6ZM525.9 68.2L524.1 71.9L527.7 74.8L529.9 74.1L530.3 73.4ZM530.4 123.2L537.4 124.1L535.0 119.4L531.0 120.4ZM597.7 155.1L597.0 155.3L594.3 157.9L595.7 161.7L599.1 161.9L602.3 158.9ZM525.3 127.4L519.3 128.1L517.9 131.7L521.8 135.7L523.5 135.6L525.2 133.4ZM519.3 147.1L524.5 150.7L525.7 150.6L526.9 145.2L523.7 141.3L522.5 141.4ZM508.8 155.1L512.0 149.5L507.0 147.7L504.8 151.3ZM542.5 133.4L548.2 134.8L548.8 132.8L544.5 128.2L543.0 128.5L543.0 128.6ZM554.7 70.5L559.5 69.2L559.2 67.6L556.3 66.9L554.7 70.5ZM547.5 149.0L554.1 151.0L555.2 148.6L553.9 144.8L551.9 143.8ZM484.5 110.9L478.9 108.0L474.9 108.7L474.9 117.5L483.7 116.8L485.7 114.5ZM545.7 109.2L547.6 110.5L553.3 109.2L553.9 105.9L552.1 104.1ZM585.8 96.1L589.2 104.6L592.3 102.1L591.7 98.2L586.1 96.0ZM563.7 96.7L558.9 94.0L557.8 94.2L554.9 97.9L555.1 98.9L557.9 101.9L564.3 100.7ZM569.6 59.9L573.4 62.6L575.4 59.6L575.2 59.3L571.6 58.1ZM568.9 121.2L566.4 118.5L561.4 119.1L560.4 121.6L562.1 126.4L562.7 126.7ZM583.7 161.3L583.9 163.8L585.0 164.9L590.4 163.8L588.9 159.7L588.6 159.6ZM513.9 87.5L516.9 87.6L517.9 85.4L514.6 82.9L514.1 83.1ZM609.7 43.4L608.4 43.2L605.2 46.4L606.1 48.6L608.7 47.6ZM580.3 56.7L580.5 57.1L583.1 57.3L585.2 52.1L582.1 51.4ZM483.5 42.5L483.8 45.9L485.6 46.6L487.9 43.4L485.5 41.8ZM577.4 95.4L573.5 92.5L569.4 96.0L570.1 101.4L570.7 101.9L571.7 101.8ZM566.0 91.4L570.5 87.6L570.3 85.7L566.5 83.1L563.2 89.9ZM513.1 93.1L514.1 98.6L517.3 96.3L517.7 94.1L517.2 93.3ZM616.6 49.6L617.3 49.1L615.5 44.8L615.2 44.8L614.3 48.3ZM590.4 54.3L588.2 59.8L589.3 61.0L594.9 57.8ZM495.1 58.7L495.1 62.3L497.9 64.0L500.8 60.9L500.9 58.8L498.3 57.0ZM489.0 171.1L493.3 163.9L492.1 161.8L491.2 161.8L488.3 164.1L487.9 168.9ZM525.1 39.4L524.0 47.7L527.2 49.6L531.3 43.4ZM503.9 87.9L508.1 88.1L508.4 82.9L506.2 81.9ZM608.8 53.6L613.1 58.6L613.4 58.5L613.8 54.5L610.8 52.9ZM559.6 160.1L567.1 160.7L567.5 159.6ZM491.6 156.1L492.2 156.1L494.5 152.7L489.2 147.2L486.9 149.7ZM535.3 140.7L536.1 137.8L529.4 137.3L528.7 138.3L531.2 141.4ZM516.1 117.6L518.8 122.4L524.9 121.7L525.6 118.7L525.4 118.5L517.1 116.7ZM543.3 38.7L549.9 34.9L549.9 31.7L543.4 34.8ZM596.4 149.2L597.7 145.6L593.1 141.5L591.2 143.1ZM544.4 72.5L546.9 79.8L549.3 79.6L550.5 78.1L550.6 74.7L549.7 73.4ZM616.9 81.8L615.2 76.9L614.6 76.7L609.8 78.9L609.6 79.4L611.8 84.1L612.3 84.3L616.0 83.2ZM529.1 63.2L534.6 69.7L538.5 68.2L533.4 60.8L530.9 60.3ZM483.7 61.6L487.2 63.5L489.4 62.2L489.4 58.7L487.7 57.7L483.7 60.3L483.5 61.0ZM504.7 27.6L503.1 19.4L494.6 19.4L493.9 25.0L499.0 28.9ZM557.6 88.3L560.2 83.2L554.5 82.2L554.3 82.5ZM615.8 39.1L616.9 39.3L619.3 37.8L618.3 32.4L616.9 33.5ZM486.4 89.9L486.4 89.9L491.3 86.3L490.2 82.9L485.5 84.3ZM596.3 29.1L599.4 31.2L601.4 30.6L601.7 30.1L601.7 30.1L598.3 26.9ZM481.5 152.9L482.1 158.3L485.0 159.4L486.2 158.4L482.0 152.7ZM577.2 67.2L581.9 70.8L585.7 68.0L585.8 65.6L583.5 63.1L580.1 62.8ZM545.4 58.3L545.1 57.6L542.6 56.3L539.0 58.9L541.7 62.7ZM613.2 163.6L613.3 171.8L617.7 171.8L617.0 163.4ZM485.1 95.4L482.7 103.5L486.0 105.2L489.1 100.7L485.4 95.5ZM495.1 79.5L497.0 85.1L498.7 85.6L500.6 80.5L495.5 79.3ZM594.0 132.2L599.0 128.4L595.9 122.1L595.2 122.0L590.1 127.4ZM499.5 71.0L498.6 74.2L502.8 75.2L503.0 74.1ZM535.0 76.5L538.7 83.0L540.3 83.3L541.7 82.0L538.9 74.2L535.7 75.4ZM577.9 145.0L581.1 143.0L577.0 137.7L572.5 139.8L573.4 144.8ZM531.1 86.0L533.1 84.7L530.4 79.9L529.1 80.3L527.8 82.9ZM484.3 78.7L488.8 77.4L486.2 74.8L484.0 76.1ZM565.2 112.9L566.7 106.0L559.4 107.4L558.8 110.9L560.7 113.4ZM567.8 145.8L566.8 140.0L565.5 139.3L559.6 143.8L560.3 145.9ZM514.7 67.7L518.0 70.5L518.6 70.3L520.8 65.6L516.9 64.7ZM609.6 103.1L607.0 106.7L607.9 110.6L615.9 113.5L616.6 113.1L615.0 102.9L612.7 102.2ZM593.8 92.9L596.5 90.6L594.3 85.5L590.2 86.7L589.2 91.0ZM553.5 157.6L553.3 156.8L544.4 154.0L544.3 154.1L545.3 160.4L546.7 161.1L553.4 158.4ZM498.5 91.5L495.2 90.5L491.0 93.6L494.0 97.8L497.0 97.7ZM508.7 74.7L508.3 76.6L511.5 78.0L512.8 77.5L513.9 74.5L511.4 72.4ZM598.3 78.8L604.1 77.3L600.8 73.4L598.0 74.8ZM591.0 26.4L595.3 21.7L595.3 21.3L594.5 19.4L592.8 19.4ZM582.0 45.5L587.8 46.8L589.1 44.3L585.0 39.5L583.3 40.1ZM574.5 37.1L572.1 39.4L573.1 43.3L576.6 43.3L577.7 39.1ZM522.7 24.6L525.8 28.5L529.7 25.9L528.2 19.4L523.5 19.3ZM489.0 30.7L488.7 37.1L492.7 39.8L493.2 39.7L495.0 33.1L490.7 29.7ZM502.7 143.9L502.4 143.1L492.2 141.1L492.1 142.0L499.0 149.3L499.3 149.2ZM513.6 135.5L510.0 136.1L507.7 140.8L508.1 142.1L514.4 144.3L517.2 139.2ZM477.6 165.2L482.4 166.1L482.5 164.6L479.8 163.6ZM619.5 54.6L619.1 58.4L620.3 58.8L624.8 56.2L621.4 53.3ZM506.2 106.7L512.6 113.1L513.7 112.1L514.4 108.7L512.2 104.3L511.8 104.2ZM530.1 114.8L534.8 113.6L535.8 112.1L530.6 109.6ZM565.4 69.6L566.7 70.6L570.7 67.7L566.0 64.4L564.7 66.0ZM604.6 126.9L607.9 128.0L611.7 125.8L613.0 118.5L606.1 116.0L601.3 120.2ZM550.1 115.8L550.4 118.9L555.4 118.8L556.1 116.9L554.6 114.8ZM524.0 60.5L526.4 56.9L525.8 55.4L520.6 52.3L515.7 53.8L515.7 53.9L517.8 59.0ZM561.9 42.6L565.2 45.6L567.7 45.3L566.6 40.9L564.5 40.6ZM514.2 157.2L517.5 158.6L519.9 154.4L516.9 152.4ZM564.4 54.6L565.6 55.8L567.8 53.8L567.2 51.1L566.1 51.2ZM611.6 140.8L613.9 142.7L615.9 142.8L623.4 136.6L614.2 131.0L611.2 132.7ZM519.8 110.6L519.7 111.4L524.6 112.5L524.9 109.0ZM564.7 30.3L566.0 35.0L568.0 35.4L571.2 32.4L571.1 31.3ZM581.1 99.7L577.3 104.1L583.4 108.5L584.5 108.2ZM561.9 134.9L560.8 132.1L559.7 131.6L554.4 134.1L553.2 138.0L553.3 138.2L555.9 139.5ZM492.3 53.7L495.8 51.9L496.1 46.8L494.4 45.3L493.5 45.4L489.7 50.6L490.1 52.5ZM510.3 30.4L512.4 34.5L521.4 34.7L522.0 34.2L522.2 33.2L518.5 28.6ZM517.9 102.9L518.9 104.9L523.3 103.6L520.0 101.4ZM512.7 40.2L511.5 43.5L514.7 48.2L518.3 47.0L519.2 40.4ZM482.3 67.3L479.9 70.6L481.0 71.2L484.0 69.5L484.1 68.4ZM563.8 78.0L563.8 75.6L562.2 74.3L556.3 76.0L556.2 76.7ZM585.9 139.9L590.2 136.5L584.9 130.1L582.1 130.1L581.0 133.5ZM615.5 97.1L617.1 97.6L620.3 95.5L616.4 89.0L615.2 89.4ZM510.5 161.8L509.7 163.5L514.7 167.7L516.5 164.7L516.4 164.4ZM607.2 34.0L609.2 37.6L610.3 37.7L610.9 34.4ZM504.7 125.3L509.2 130.5L512.5 129.9L514.1 125.7L511.5 121.1ZM607.0 162.2L603.4 165.6L605.4 171.8L607.6 171.8L607.5 162.5ZM549.2 99.1L543.9 97.1L541.7 99.4L543.5 103.7ZM591.1 110.4L595.8 116.3L596.9 116.5L602.3 111.7L601.5 108.3L595.9 106.5ZM550.9 56.6L552.6 57.4L554.8 55.0L553.4 53.3L550.7 56.1ZM572.3 107.5L572.2 107.5L570.7 114.7L574.4 118.8L574.6 118.9L578.9 112.3ZM492.2 67.2L489.8 68.6L489.7 70.1L492.9 73.5L494.3 68.5ZM522.0 90.3L522.1 90.5L527.0 90.0L523.6 86.7L523.5 86.8ZM492.6 135.4L503.1 137.4L504.7 134.0L500.9 129.6ZM523.1 96.1L523.0 96.6L527.6 99.6L528.9 97.8L528.0 95.6ZM538.5 45.0L536.9 45.2L531.3 53.7L531.7 54.7L534.4 55.2L539.3 51.7ZM588.4 148.6L590.3 153.8L591.7 152.5ZM500.6 34.4L498.6 41.4L499.9 42.6L506.2 41.5L507.6 37.5L505.3 33.3ZM552.3 40.0L548.8 42.1L553.0 44.5L554.9 42.5ZM624.6 154.7L627.4 154.6L627.4 140.7L620.4 146.5ZM601.7 88.3L606.1 85.4L605.0 82.9L599.9 84.2Z" fill="#0a0a0a" stroke="#0a0a0a" stroke-width="4.4" stroke-linejoin="round"/>
</g>
<polygon points="545.5,77.4 548.6,78.6 551.7,81.1 554.8,80.9 557.8,82.4 560.3,85.5 562.2,89.2 562.6,92.9 560.9,96.6 559.7,99.7 558.2,102.2 556.6,104.7 554.8,107.8 551.7,110.9 548.6,112.1 545.5,110.9 543.0,108.4 540.5,105.3 539.3,102.2 537.4,98.5 535.5,95.4 535.5,92.3 538.0,90.4 539.9,87.9 540.5,84.8 542.4,80.5 543.6,78.0" fill="#4a6bc0" stroke="#000" stroke-width="1.3" stroke-linejoin="round"/>
</g>
<text x="140.4" y="28.1" font-size="9.4" text-anchor="middle" fill="#000">pre-activation (1 min)</text>
<text x="81.1" y="45.8" font-size="11.8" text-anchor="start" font-weight="700" fill="#fff">a</text>
<rect x="182.8" y="154.1" width="18.2" height="2.1" fill="#fff"/>
<text x="269.1" y="28.1" font-size="9.4" text-anchor="middle" fill="#000">activation (40 s)</text>
<text x="209.8" y="45.8" font-size="11.8" text-anchor="start" font-weight="700" fill="#fff">a’</text>
<rect x="311.5" y="154.1" width="18.2" height="2.1" fill="#fff"/>
<text x="399.1" y="28.1" font-size="9.4" text-anchor="middle" fill="#000">response (~5 min)</text>
<text x="339.8" y="45.8" font-size="11.8" text-anchor="start" font-weight="700" fill="#fff">a”</text>
<rect x="441.5" y="154.1" width="18.2" height="2.1" fill="#fff"/>
<text x="551.1" y="28.1" font-size="9.4" text-anchor="middle" fill="#000">segmentation</text>
<text x="491.8" y="45.8" font-size="11.8" text-anchor="start" font-weight="700" fill="#fff">a’’’</text>
<rect x="593.5" y="154.1" width="18.2" height="2.1" fill="#fff"/>
<text x="74.1" y="95.5" font-size="9.4" text-anchor="middle" fill="#000" transform="rotate(-90 74.1 95.5)">membrane (iLID)</text>
<path d="M465 95.5H478" stroke="#000" stroke-width="1.2"/><polygon points="477,91.9 483.2,95.5 477,99.1" fill="#000"/>
<polygon points="51.2,212.2 78.0,212.2 79.6,212.4 90.9,218.0 96.6,214.2 102.3,212.2 174.2,212.2 174.2,290.3 128.5,290.3 122.2,286.5 103.2,286.5 97.2,282.5 78.9,282.5 56.2,278.2 51.2,278.2" fill="#d1d3ea"/>
<rect x="57.5" y="222.0" width="12.6" height="40.4" fill="#2ffcfc"/>
<polyline points="51.2,212.2 78.0,212.2 79.6,212.4 90.9,218.0 96.6,214.2 102.3,212.2 174.2,212.2" fill="none" stroke="#4262b2" stroke-width="2.7" stroke-linejoin="round"/>
<polyline points="51.2,278.2 56.2,278.2 78.9,282.5 97.2,282.5 103.2,286.5 122.2,286.5 128.5,290.3 174.2,290.3" fill="none" stroke="#4262b2" stroke-width="2.7" stroke-linejoin="round"/>
<path d="M50.8 201.8V292M50.15 292H174.2" stroke="#000" stroke-width="1.5" fill="none"/>
<path d="M47.4 250.3H50.8" stroke="#000" stroke-width="1.5"/>
<text x="45.4" y="254.2" font-size="10" text-anchor="end" fill="#222">20</text>
<path d="M47.4 209.9H50.8" stroke="#000" stroke-width="1.5"/>
<text x="45.4" y="213.8" font-size="10" text-anchor="end" fill="#222">40</text>
<path d="M63.8 292V295" stroke="#000" stroke-width="1.5"/>
<text x="63.8" y="304.2" font-size="10" text-anchor="middle" fill="#222">0</text>
<path d="M95.3 292V295" stroke="#000" stroke-width="1.5"/>
<text x="95.3" y="304.2" font-size="10" text-anchor="middle" fill="#222">100</text>
<path d="M126.9 292V295" stroke="#000" stroke-width="1.5"/>
<text x="126.9" y="304.2" font-size="10" text-anchor="middle" fill="#222">200</text>
<path d="M158.4 292V295" stroke="#000" stroke-width="1.5"/>
<text x="158.4" y="304.2" font-size="10" text-anchor="middle" fill="#222">300</text>
<polygon points="217.0,210.8 230.9,210.8 251.0,218.4 257.1,218.4 264.0,222.5 277.1,222.5 283.8,218.4 309.9,218.4 316.3,214.6 323.0,214.6 329.7,210.8 340.2,210.8 340.2,290.3 303.3,290.3 296.3,286.5 277.1,286.5 270.4,282.3 264.6,282.3 257.7,274.4 251.0,278.2 230.1,278.2 223.1,274.4 217.0,274.4" fill="#d1d3ea"/>
<rect x="232.1" y="220.4" width="11.6" height="40.4" fill="#2ffcfc"/>
<polyline points="217.0,210.8 230.9,210.8 251.0,218.4 257.1,218.4 264.0,222.5 277.1,222.5 283.8,218.4 309.9,218.4 316.3,214.6 323.0,214.6 329.7,210.8 340.2,210.8" fill="none" stroke="#4262b2" stroke-width="2.7" stroke-linejoin="round"/>
<polyline points="217.0,274.4 223.1,274.4 230.1,278.2 251.0,278.2 257.7,274.4 264.6,282.3 270.4,282.3 277.1,286.5 296.3,286.5 303.3,290.3 340.2,290.3" fill="none" stroke="#4262b2" stroke-width="2.7" stroke-linejoin="round"/>
<path d="M216.9 201.8V292M216.25 292H340.2" stroke="#000" stroke-width="1.5" fill="none"/>
<path d="M213.5 250.4H216.9" stroke="#000" stroke-width="1.5"/>
<text x="212.6" y="254.3" font-size="10" text-anchor="end" fill="#222">20</text>
<path d="M213.5 210.5H216.9" stroke="#000" stroke-width="1.5"/>
<text x="212.6" y="214.4" font-size="10" text-anchor="end" fill="#222">40</text>
<path d="M237.9 292V295" stroke="#000" stroke-width="1.5"/>
<text x="237.9" y="304.2" font-size="10" text-anchor="middle" fill="#222">0</text>
<path d="M266.9 292V295" stroke="#000" stroke-width="1.5"/>
<text x="266.9" y="304.2" font-size="10" text-anchor="middle" fill="#222">100</text>
<path d="M296.0 292V295" stroke="#000" stroke-width="1.5"/>
<text x="296.0" y="304.2" font-size="10" text-anchor="middle" fill="#222">200</text>
<path d="M325.1 292V295" stroke="#000" stroke-width="1.5"/>
<text x="325.1" y="304.2" font-size="10" text-anchor="middle" fill="#222">300</text>
<polygon points="387.8,212.6 393.8,212.6 415.0,222.3 427.6,230.7 439.6,230.7 446.0,234.7 490.1,234.7 496.0,238.6 503.0,238.6 503.0,290.3 465.4,290.3 459.1,286.5 452.8,286.5 446.5,282.4 428.2,282.4 421.9,278.2 415.9,282.4 387.8,282.4" fill="#d1d3ea"/>
<rect x="395.1" y="222.0" width="12.6" height="40.4" fill="#2ffcfc"/>
<polyline points="387.8,212.6 393.8,212.6 415.0,222.3 427.6,230.7 439.6,230.7 446.0,234.7 490.1,234.7 496.0,238.6 503.0,238.6" fill="none" stroke="#4262b2" stroke-width="2.7" stroke-linejoin="round"/>
<polyline points="387.8,282.4 415.9,282.4 421.9,278.2 428.2,282.4 446.5,282.4 452.8,286.5 459.1,286.5 465.4,290.3 503.0,290.3" fill="none" stroke="#4262b2" stroke-width="2.7" stroke-linejoin="round"/>
<path d="M387.9 201.8V292M387.25 292H512.1" stroke="#000" stroke-width="1.5" fill="none"/>
<path d="M384.5 250.4H387.9" stroke="#000" stroke-width="1.5"/>
<text x="383.2" y="254.3" font-size="10" text-anchor="end" fill="#222">20</text>
<path d="M384.5 210.5H387.9" stroke="#000" stroke-width="1.5"/>
<text x="383.2" y="214.4" font-size="10" text-anchor="end" fill="#222">40</text>
<path d="M401.4 292V295" stroke="#000" stroke-width="1.5"/>
<text x="401.4" y="304.2" font-size="10" text-anchor="middle" fill="#222">0</text>
<path d="M432.9 292V295" stroke="#000" stroke-width="1.5"/>
<text x="432.9" y="304.2" font-size="10" text-anchor="middle" fill="#222">100</text>
<path d="M464.5 292V295" stroke="#000" stroke-width="1.5"/>
<text x="464.5" y="304.2" font-size="10" text-anchor="middle" fill="#222">200</text>
<path d="M496.0 292V295" stroke="#000" stroke-width="1.5"/>
<text x="496.0" y="304.2" font-size="10" text-anchor="middle" fill="#222">300</text>
<text x="33.6" y="197.6" font-size="12.5" text-anchor="start" font-weight="700" fill="#000">b</text>
<text x="201.0" y="198.6" font-size="12.5" text-anchor="start" font-weight="700" fill="#000">b’</text>
<text x="365.0" y="198.7" font-size="12.5" text-anchor="start" font-weight="700" fill="#000">b”</text>
<text x="113.2" y="197.7" font-size="11" text-anchor="middle" fill="#000">weak activation</text>
<text x="277.7" y="199.2" font-size="11" text-anchor="middle" fill="#000">moderate activation</text>
<text x="445.6" y="199.2" font-size="11" text-anchor="middle" fill="#000">strong activation</text>
<text x="278.4" y="322.2" font-size="11" text-anchor="middle" fill="#000">Time after activation (s)</text>
<text x="17.5" y="252.1" font-size="11" text-anchor="middle" fill="#000" transform="rotate(-90 17.5 252.1)">Tissue boundaries (µm)</text>
<text x="51.9" y="208" font-size="8.1" text-anchor="start" fill="#000">apical</text>
<text x="52.4" y="288.8" font-size="8.1" text-anchor="start" fill="#000">basal</text>
<text x="522.9" y="197.1" font-size="12.5" text-anchor="start" font-weight="700" fill="#000">c</text>
<path d="M563.3 187.5V297.9M559.5 297.9H676.7" stroke="#000" stroke-width="1.55" fill="none"/>
<path d="M559.5 188.1H563.3" stroke="#000" stroke-width="1.55"/>
<text x="557.0" y="192.7" font-size="13" text-anchor="end" fill="#222">10</text>
<path d="M559.5 243.0H563.3" stroke="#000" stroke-width="1.55"/>
<text x="557.0" y="247.6" font-size="13" text-anchor="end" fill="#222">5</text>
<text x="557.0" y="302.5" font-size="13" text-anchor="end" fill="#222">0</text>
<path d="M563.3 297.9V301.7" stroke="#000" stroke-width="1.55"/>
<text x="563.3" y="312.9" font-size="13" text-anchor="middle" fill="#222">0</text>
<path d="M608.2 297.9V301.7" stroke="#000" stroke-width="1.55"/>
<text x="608.2" y="312.9" font-size="13" text-anchor="middle" fill="#222">1</text>
<path d="M653.7 297.9V301.7" stroke="#000" stroke-width="1.55"/>
<text x="653.7" y="312.9" font-size="13" text-anchor="middle" fill="#222">2</text>
<text x="618.1" y="322.5" font-size="11" text-anchor="middle" fill="#000">Activation magnitude</text>
<text x="532.1" y="250" font-size="11" text-anchor="middle" fill="#000" transform="rotate(-90 532.1 250)">Region-averaged</text>
<text x="545.0" y="250" font-size="11" text-anchor="middle" fill="#000" transform="rotate(-90 545.0 250)">shortening (µm)</text>
<circle cx="570.2" cy="291.6" r="2.7" fill="#4b6cc0"/>
<circle cx="575.7" cy="298.1" r="2.7" fill="#4b6cc0"/>
<circle cx="576.4" cy="291.2" r="2.7" fill="#f28ad0"/>
<circle cx="578.3" cy="283.75" r="2.7" fill="#4b6cc0"/>
<circle cx="584.6" cy="293.1" r="2.7" fill="#4b6cc0"/>
<circle cx="584.4" cy="269.2" r="2.7" fill="#4b6cc0"/>
<circle cx="594.5" cy="252.7" r="2.7" fill="#4b6cc0"/>
<circle cx="598.7" cy="255.1" r="2.7" fill="#4b6cc0"/>
<circle cx="595.4" cy="267.2" r="2.7" fill="#4b6cc0"/>
<circle cx="599.7" cy="267.6" r="2.7" fill="#4b6cc0"/>
<circle cx="597.4" cy="281.8" r="2.7" fill="#4b6cc0"/>
<circle cx="601.8" cy="244.7" r="2.7" fill="#4b6cc0"/>
<circle cx="607.9" cy="250.8" r="2.7" fill="#4b6cc0"/>
<circle cx="600.5" cy="222.3" r="2.7" fill="#4b6cc0"/>
<circle cx="607.5" cy="222.3" r="2.7" fill="#4b6cc0"/>
<circle cx="610.5" cy="231.6" r="2.7" fill="#4b6cc0"/>
<circle cx="621.5" cy="206.0" r="2.7" fill="#4b6cc0"/>
<circle cx="631.5" cy="255.1" r="2.7" fill="#4b6cc0"/>
<circle cx="597.0" cy="298.1" r="2.7" fill="#f28ad0"/>
<circle cx="614.4" cy="295.2" r="2.7" fill="#f28ad0"/>
<circle cx="629.8" cy="298.1" r="2.7" fill="#f28ad0"/>
<circle cx="627.2" cy="288.35" r="2.7" fill="#f28ad0"/>
<circle cx="633.1" cy="276.9" r="2.7" fill="#f28ad0"/>
<circle cx="640.3" cy="281.1" r="2.7" fill="#f28ad0"/>
<circle cx="649.3" cy="262.3" r="2.7" fill="#f28ad0"/>
<circle cx="653.5" cy="261.0" r="2.7" fill="#f28ad0"/>
<circle cx="657.7" cy="263.0" r="2.7" fill="#f28ad0"/>
<circle cx="664.9" cy="256.3" r="2.7" fill="#f28ad0"/>
<rect x="627.5" y="218.4" width="45.9" height="19.8" rx="1.8" fill="#fff" stroke="#000" stroke-width="1.0"/>
<circle cx="633.6" cy="224.3" r="2.3" fill="#4b6cc0"/><circle cx="633.6" cy="232.5" r="2.3" fill="#f28ad0"/>
<text x="638.6" y="226.5" font-size="6.35" text-anchor="start" fill="#000">OptoGEF2</text>
<text x="638.6" y="234.7" font-size="6.35" text-anchor="start" fill="#000">OptoCysts</text>
<text x="-0.6" y="355.8" font-size="12.5" text-anchor="start" font-weight="700" fill="#000">d</text>
<path d="M52.2 346.2V453.6M48.400000000000006 453.6H164.9" stroke="#000" stroke-width="1.55" fill="none"/>
<path d="M48.400000000000006 371.0H52.2" stroke="#000" stroke-width="1.55"/>
<text x="45.9" y="375.6" font-size="13" text-anchor="end" fill="#222">10</text>
<path d="M48.400000000000006 412.2H52.2" stroke="#000" stroke-width="1.55"/>
<text x="45.9" y="416.8" font-size="13" text-anchor="end" fill="#222">5</text>
<text x="45.9" y="458.2" font-size="13" text-anchor="end" fill="#222">0</text>
<path d="M52.1 453.6V457.40000000000003" stroke="#000" stroke-width="1.55"/>
<text x="52.1" y="467.9" font-size="13" text-anchor="middle" fill="#222">0</text>
<path d="M91.6 453.6V457.40000000000003" stroke="#000" stroke-width="1.55"/>
<text x="91.6" y="467.9" font-size="13" text-anchor="middle" fill="#222">5</text>
<path d="M132.3 453.6V457.40000000000003" stroke="#000" stroke-width="1.55"/>
<text x="132.3" y="467.9" font-size="13" text-anchor="middle" fill="#222">10</text>
<text x="108.6" y="481.3" font-size="11" text-anchor="middle" fill="#000">Maximum shortening (µm)</text>
<text x="13.8" y="408.8" font-size="11" text-anchor="middle" fill="#000" transform="rotate(-90 13.8 408.8)">Region-averaged</text>
<text x="27.0" y="408.8" font-size="11" text-anchor="middle" fill="#000" transform="rotate(-90 27.0 408.8)">shortening (µm)</text>
<path d="M157 346.6L52.2 453.3" stroke="#000" stroke-width="2.2" stroke-dasharray="7.8 2.9" stroke-dashoffset="1" fill="none"/>
<circle cx="62.5" cy="449.9" r="2.7" fill="#4b6cc0"/>
<circle cx="71.6" cy="453.7" r="2.7" fill="#4b6cc0"/>
<circle cx="76.9" cy="448.6" r="2.7" fill="#4b6cc0"/>
<circle cx="91.1" cy="441.4" r="2.7" fill="#4b6cc0"/>
<circle cx="90.55" cy="442.9" r="2.7" fill="#4b6cc0"/>
<circle cx="98.7" cy="430.4" r="2.7" fill="#4b6cc0"/>
<circle cx="105.7" cy="430.2" r="2.7" fill="#4b6cc0"/>
<circle cx="113.3" cy="431.9" r="2.7" fill="#4b6cc0"/>
<circle cx="113.7" cy="417.7" r="2.7" fill="#4b6cc0"/>
<circle cx="118.6" cy="419.6" r="2.7" fill="#4b6cc0"/>
<circle cx="129.8" cy="421.5" r="2.7" fill="#4b6cc0"/>
<circle cx="135.15" cy="413.3" r="2.7" fill="#4b6cc0"/>
<circle cx="148.05" cy="421.5" r="2.7" fill="#4b6cc0"/>
<circle cx="154.1" cy="404.0" r="2.7" fill="#4b6cc0"/>
<circle cx="126.0" cy="396.5" r="2.7" fill="#4b6cc0"/>
<circle cx="136.1" cy="396.5" r="2.7" fill="#4b6cc0"/>
<circle cx="153.2" cy="384.7" r="2.7" fill="#4b6cc0"/>
<circle cx="52.0" cy="453.35" r="2.7" fill="#f28ad0"/>
<circle cx="63.4" cy="448.4" r="2.7" fill="#f28ad0"/>
<circle cx="62.1" cy="453.7" r="2.7" fill="#f28ad0"/>
<circle cx="68.7" cy="451.3" r="2.7" fill="#f28ad0"/>
<circle cx="83.9" cy="440.4" r="2.7" fill="#f28ad0"/>
<circle cx="100.0" cy="446.1" r="2.7" fill="#f28ad0"/>
<circle cx="108.0" cy="437.6" r="2.7" fill="#f28ad0"/>
<circle cx="111.0" cy="427.2" r="2.7" fill="#f28ad0"/>
<circle cx="124.3" cy="422.0" r="2.7" fill="#f28ad0"/>
<circle cx="123.4" cy="426.6" r="2.7" fill="#f28ad0"/>
<circle cx="141.8" cy="425.6" r="2.7" fill="#f28ad0"/>
<rect x="61.7" y="367.6" width="45.9" height="20.8" rx="1.8" fill="#fff" stroke="#000" stroke-width="1.5"/>
<circle cx="67.8" cy="373.5" r="2.3" fill="#4b6cc0"/><circle cx="67.8" cy="381.70000000000005" r="2.3" fill="#ea86be"/>
<text x="72.8" y="375.7" font-size="6.35" text-anchor="start" fill="#000">OptoGEF2</text>
<text x="72.8" y="383.9" font-size="6.35" text-anchor="start" fill="#000">OptoCysts</text>
<text x="177.2" y="355.5" font-size="12.5" text-anchor="start" font-weight="700" fill="#000">e</text>
<path d="M226.5 346.4V453.6M222.7 453.6H338.9" stroke="#000" stroke-width="1.55" fill="none"/>
<path d="M222.7 371.1H226.5" stroke="#000" stroke-width="1.55"/>
<text x="220.2" y="375.7" font-size="13" text-anchor="end" fill="#222">10</text>
<path d="M222.7 412.3H226.5" stroke="#000" stroke-width="1.55"/>
<text x="220.2" y="416.9" font-size="13" text-anchor="end" fill="#222">5</text>
<text x="220.2" y="458.2" font-size="13" text-anchor="end" fill="#222">0</text>
<path d="M226.5 453.6V457.40000000000003" stroke="#000" stroke-width="1.55"/>
<text x="226.5" y="467.9" font-size="13" text-anchor="middle" fill="#222">0</text>
<path d="M266.3 453.6V457.40000000000003" stroke="#000" stroke-width="1.55"/>
<text x="266.3" y="467.9" font-size="13" text-anchor="middle" fill="#222">5</text>
<path d="M306.2 453.6V457.40000000000003" stroke="#000" stroke-width="1.55"/>
<text x="306.2" y="467.9" font-size="13" text-anchor="middle" fill="#222">10</text>
<text x="281.3" y="481.3" font-size="11" text-anchor="middle" fill="#000">Apical shortening (µm)</text>
<text x="200.3" y="408.9" font-size="11" text-anchor="middle" fill="#000" transform="rotate(-90 200.3 408.9)">Basal shortening (µm)</text>
<path d="M330.7 346.5L226.5 453.3" stroke="#000" stroke-width="2.6" stroke-dasharray="6.75 2.8" stroke-dashoffset="1.2" fill="none"/>
<circle cx="226.4" cy="442.8" r="2.7" fill="#4b6cc0"/>
<circle cx="242.1" cy="449.9" r="2.7" fill="#4b6cc0"/>
<circle cx="250.3" cy="449.6" r="2.7" fill="#4b6cc0"/>
<circle cx="258.25" cy="446.5" r="2.7" fill="#4b6cc0"/>
<circle cx="274.4" cy="423.4" r="2.7" fill="#4b6cc0"/>
<circle cx="274.4" cy="434.0" r="2.7" fill="#4b6cc0"/>
<circle cx="274.4" cy="436.0" r="2.7" fill="#4b6cc0"/>
<circle cx="282.35" cy="422.0" r="2.7" fill="#4b6cc0"/>
<circle cx="290.4" cy="424.0" r="2.7" fill="#4b6cc0"/>
<circle cx="290.4" cy="431.4" r="2.7" fill="#4b6cc0"/>
<circle cx="290.4" cy="442.0" r="2.7" fill="#4b6cc0"/>
<circle cx="298.5" cy="417.7" r="2.7" fill="#4b6cc0"/>
<circle cx="298.5" cy="426.0" r="2.7" fill="#4b6cc0"/>
<circle cx="322.4" cy="434.75" r="2.7" fill="#4b6cc0"/>
<circle cx="330.3" cy="425.3" r="2.7" fill="#4b6cc0"/>
<circle cx="330.3" cy="430.0" r="2.7" fill="#4b6cc0"/>
<circle cx="226.4" cy="453.35" r="2.7" fill="#f28ad0"/>
<circle cx="226.4" cy="442.0" r="2.7" fill="#f28ad0"/>
<circle cx="234.5" cy="442.7" r="2.7" fill="#f28ad0"/>
<circle cx="234.5" cy="444.6" r="2.7" fill="#f28ad0"/>
<circle cx="258.25" cy="442.9" r="2.7" fill="#f28ad0"/>
<circle cx="274.4" cy="438.5" r="2.7" fill="#f28ad0"/>
<circle cx="282.35" cy="444.0" r="2.7" fill="#f28ad0"/>
<circle cx="290.4" cy="421.9" r="2.7" fill="#f28ad0"/>
<circle cx="290.4" cy="428.7" r="2.7" fill="#f28ad0"/>
<circle cx="298.5" cy="438.2" r="2.7" fill="#f28ad0"/>
<circle cx="306.6" cy="436.3" r="2.7" fill="#f28ad0"/>
<rect x="240.6" y="361.2" width="44.8" height="20.3" rx="1.8" fill="#fff" stroke="#000" stroke-width="0.8"/>
<circle cx="246.7" cy="367.09999999999997" r="2.3" fill="#4b6cc0"/><circle cx="246.7" cy="375.3" r="2.3" fill="#f28ad0"/>
<text x="251.7" y="369.3" font-size="6.35" text-anchor="start" fill="#000">OptoGEF2</text>
<text x="251.7" y="377.5" font-size="6.35" text-anchor="start" fill="#000">OptoCysts</text>
<text x="364.9" y="351.7" font-size="12.5" text-anchor="start" font-weight="700" fill="#000">f</text>
<path d="M413.3 350.9V453.65M409.5 453.65H514.0" stroke="#000" stroke-width="1.55" fill="none"/>
<path d="M409.5 351.5H413.3" stroke="#000" stroke-width="1.55"/>
<text x="407.0" y="356.1" font-size="13" text-anchor="end" fill="#222">1.0</text>
<path d="M409.5 402.5H413.3" stroke="#000" stroke-width="1.55"/>
<text x="407.0" y="407.1" font-size="13" text-anchor="end" fill="#222">0.5</text>
<text x="407.0" y="458.2" font-size="13" text-anchor="end" fill="#222">0.0</text>
<path d="M413.3 453.65V457.45" stroke="#000" stroke-width="1.55"/>
<text x="413.3" y="468.8" font-size="13" text-anchor="middle" fill="#222">0.0</text>
<path d="M463.4 453.65V457.45" stroke="#000" stroke-width="1.55"/>
<text x="463.4" y="468.8" font-size="13" text-anchor="middle" fill="#222">0.5</text>
<path d="M513.4 453.65V457.45" stroke="#000" stroke-width="1.55"/>
<text x="513.4" y="468.8" font-size="13" text-anchor="middle" fill="#222">1.0</text>
<path d="M409.5 351.5H413.3" stroke="#000" stroke-width="1.3"/>
<text x="456.9" y="481.3" font-size="11" text-anchor="middle" fill="#000">Cysts activation scale factor</text>
<text x="370.0" y="411" font-size="11" text-anchor="middle" fill="#000" transform="rotate(-90 370.0 411)">Coefficient of</text>
<text x="381.9" y="411" font-size="11" text-anchor="middle" fill="#000" transform="rotate(-90 381.9 411)">determination</text>
<polyline points="413.3,403.9 418.3,400.1 423.3,396.5 429.0,392.4 433.3,390.0 438.3,388.3 442.6,387.8 447.3,388.8 453.3,392.4 458.3,397.5 463.4,403.6 466.9,408.2 471.4,414.6 476.4,421.5 481.4,427.7 485.9,432.8 490.4,436.9 495.4,440.5 500.4,443.4 504.9,445.4 509.4,447.2 513.4,448.6" fill="none" stroke="#b87cbc" stroke-width="3.2" stroke-linejoin="round"/>
<path d="M442.6 453.5V351.5" stroke="#000" stroke-width="2" stroke-dasharray="8.3 2.95" stroke-dashoffset="4" fill="none"/>
<text x="445.8" y="360.2" font-size="7.8" text-anchor="start" fill="#000">x = 0.293</text>
<text x="528.2" y="346.5" font-size="12.5" text-anchor="start" font-weight="700" fill="#000">g</text>
<path d="M575.9 342.9V455.8M572.1 455.8H685" stroke="#000" stroke-width="1.55" fill="none"/>
<path d="M572.1 343.5H575.9" stroke="#000" stroke-width="1.55"/>
<text x="569.8" y="348.7" font-size="13" text-anchor="end" fill="#222">0.6</text>
<path d="M572.1 381.1H575.9" stroke="#000" stroke-width="1.55"/>
<text x="569.8" y="386.3" font-size="13" text-anchor="end" fill="#222">0.4</text>
<path d="M572.1 418.4H575.9" stroke="#000" stroke-width="1.55"/>
<text x="569.8" y="423.6" font-size="13" text-anchor="end" fill="#222">0.2</text>
<path d="M572.1 455.8H575.9" stroke="#000" stroke-width="1.55"/>
<text x="569.8" y="461.0" font-size="13" text-anchor="end" fill="#222">0.0</text>
<rect x="597.5" y="381.3" width="28.9" height="74.5" fill="#b97bb6" stroke="#000" stroke-width="1.5"/>
<rect x="648.0" y="401.1" width="29.5" height="54.7" fill="#b97bb6" stroke="#000" stroke-width="1.5"/>
<text x="611.4" y="379.2" font-size="9.6" text-anchor="middle" fill="#000">0.398</text>
<text x="662.8" y="398.6" font-size="9.6" text-anchor="middle" fill="#000">0.293</text>
<text x="611.3" y="469.3" font-size="11" text-anchor="middle" fill="#000">Abundance</text>
<text x="611.6" y="480.9" font-size="11" text-anchor="middle" fill="#000">ratio</text>
<text x="663.7" y="469.3" font-size="11" text-anchor="middle" fill="#000">Activity</text>
<text x="664.0" y="480.9" font-size="11" text-anchor="middle" fill="#000">ratio</text>
<text x="542.2" y="404" font-size="11" text-anchor="middle" fill="#000" transform="rotate(-90 542.2 404)">Cysts/GEF ratio</text>
</g>
</svg>
</body></html>
